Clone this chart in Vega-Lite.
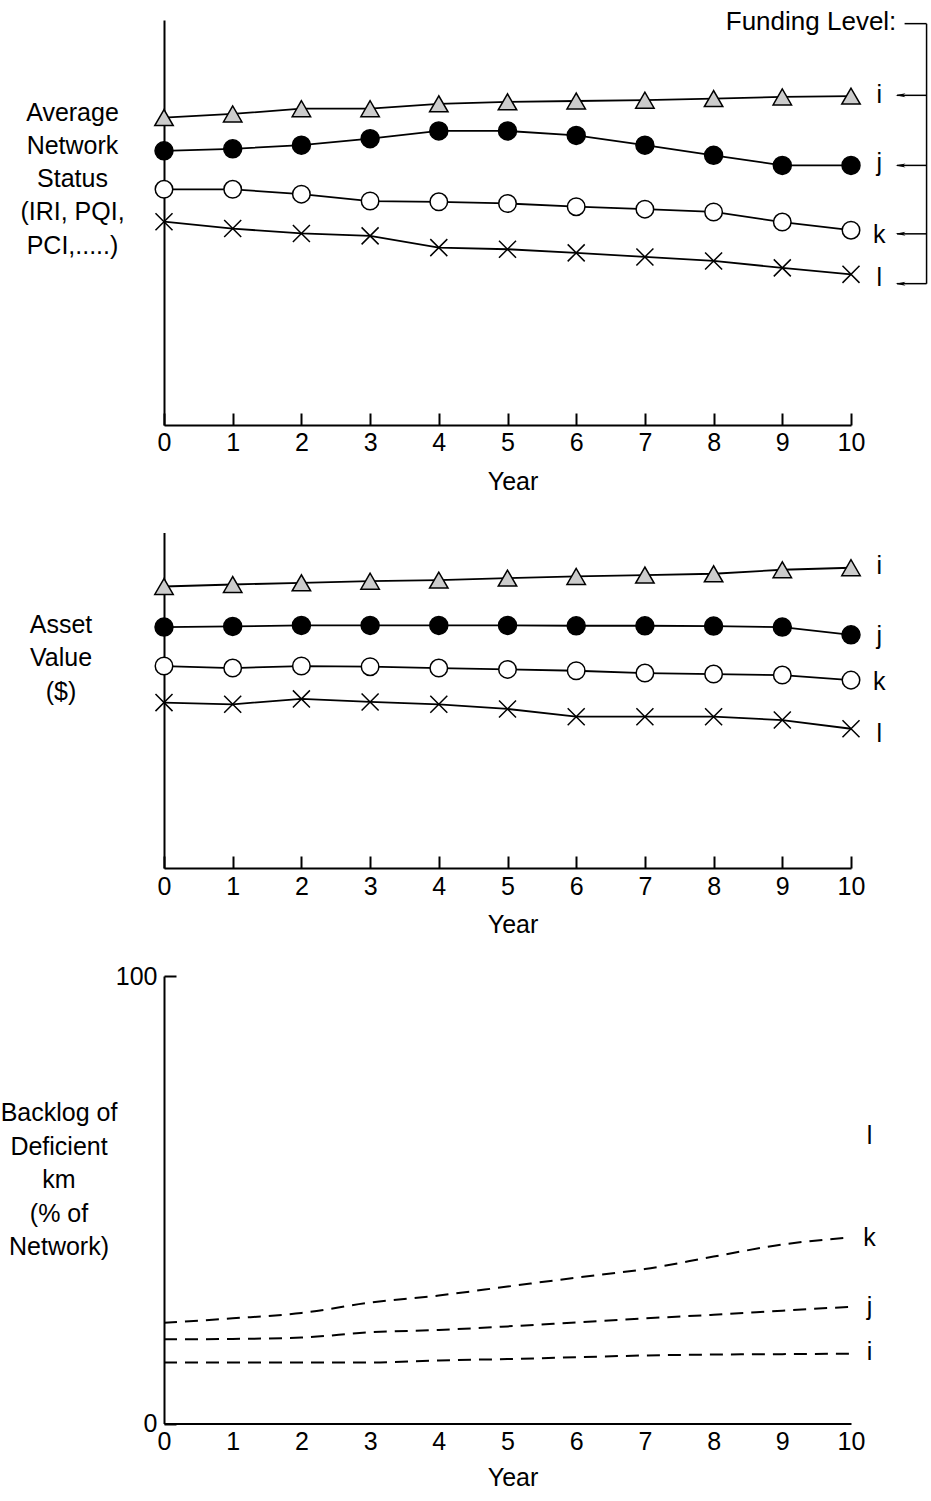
{
  "$schema": "https://vega.github.io/schema/vega-lite/v6.json",
  "padding": {"left": 0, "top": 9, "right": 0, "bottom": 0},
  "bounds": "flush",
  "spacing": 107.5,
  "config": {
    "view": {"stroke": null},
    "font": "Liberation Sans",
    "axis": {"labelFont": "Liberation Sans", "titleFont": "Liberation Sans", "titleFontWeight": "normal", "labelColor": "black", "titleColor": "black", "domainColor": "black", "tickColor": "black", "grid": false},
    "text": {"font": "Liberation Sans", "fontSize": 25, "color": "black"}
  },
  "datasets": {
    "series": [
      {"p": "A", "s": "i", "year": 0, "v": 75.9}, {"p": "A", "s": "i", "year": 1, "v": 76.8}, {"p": "A", "s": "i", "year": 2, "v": 78.1}, {"p": "A", "s": "i", "year": 3, "v": 78.1}, {"p": "A", "s": "i", "year": 4, "v": 79.3}, {"p": "A", "s": "i", "year": 5, "v": 79.8}, {"p": "A", "s": "i", "year": 6, "v": 80.0}, {"p": "A", "s": "i", "year": 7, "v": 80.2}, {"p": "A", "s": "i", "year": 8, "v": 80.6}, {"p": "A", "s": "i", "year": 9, "v": 81.0}, {"p": "A", "s": "i", "year": 10, "v": 81.2},
      {"p": "A", "s": "j", "year": 0, "v": 67.7}, {"p": "A", "s": "j", "year": 1, "v": 68.2}, {"p": "A", "s": "j", "year": 2, "v": 69.1}, {"p": "A", "s": "j", "year": 3, "v": 70.7}, {"p": "A", "s": "j", "year": 4, "v": 72.6}, {"p": "A", "s": "j", "year": 5, "v": 72.6}, {"p": "A", "s": "j", "year": 6, "v": 71.5}, {"p": "A", "s": "j", "year": 7, "v": 69.1}, {"p": "A", "s": "j", "year": 8, "v": 66.6}, {"p": "A", "s": "j", "year": 9, "v": 64.1}, {"p": "A", "s": "j", "year": 10, "v": 64.1},
      {"p": "A", "s": "k", "year": 0, "v": 58.2}, {"p": "A", "s": "k", "year": 1, "v": 58.2}, {"p": "A", "s": "k", "year": 2, "v": 57.0}, {"p": "A", "s": "k", "year": 3, "v": 55.3}, {"p": "A", "s": "k", "year": 4, "v": 55.1}, {"p": "A", "s": "k", "year": 5, "v": 54.7}, {"p": "A", "s": "k", "year": 6, "v": 53.9}, {"p": "A", "s": "k", "year": 7, "v": 53.3}, {"p": "A", "s": "k", "year": 8, "v": 52.6}, {"p": "A", "s": "k", "year": 9, "v": 50.1}, {"p": "A", "s": "k", "year": 10, "v": 48.1},
      {"p": "A", "s": "l", "year": 0, "v": 50.2}, {"p": "A", "s": "l", "year": 1, "v": 48.5}, {"p": "A", "s": "l", "year": 2, "v": 47.3}, {"p": "A", "s": "l", "year": 3, "v": 46.7}, {"p": "A", "s": "l", "year": 4, "v": 43.8}, {"p": "A", "s": "l", "year": 5, "v": 43.4}, {"p": "A", "s": "l", "year": 6, "v": 42.5}, {"p": "A", "s": "l", "year": 7, "v": 41.5}, {"p": "A", "s": "l", "year": 8, "v": 40.5}, {"p": "A", "s": "l", "year": 9, "v": 38.8}, {"p": "A", "s": "l", "year": 10, "v": 37.2},
      {"p": "B", "s": "i", "year": 0, "v": 83.9}, {"p": "B", "s": "i", "year": 1, "v": 84.5}, {"p": "B", "s": "i", "year": 2, "v": 85.0}, {"p": "B", "s": "i", "year": 3, "v": 85.5}, {"p": "B", "s": "i", "year": 4, "v": 85.8}, {"p": "B", "s": "i", "year": 5, "v": 86.4}, {"p": "B", "s": "i", "year": 6, "v": 86.9}, {"p": "B", "s": "i", "year": 7, "v": 87.3}, {"p": "B", "s": "i", "year": 8, "v": 87.7}, {"p": "B", "s": "i", "year": 9, "v": 88.9}, {"p": "B", "s": "i", "year": 10, "v": 89.5},
      {"p": "B", "s": "j", "year": 0, "v": 71.8}, {"p": "B", "s": "j", "year": 1, "v": 72.0}, {"p": "B", "s": "j", "year": 2, "v": 72.3}, {"p": "B", "s": "j", "year": 3, "v": 72.3}, {"p": "B", "s": "j", "year": 4, "v": 72.3}, {"p": "B", "s": "j", "year": 5, "v": 72.3}, {"p": "B", "s": "j", "year": 6, "v": 72.2}, {"p": "B", "s": "j", "year": 7, "v": 72.2}, {"p": "B", "s": "j", "year": 8, "v": 72.1}, {"p": "B", "s": "j", "year": 9, "v": 71.8}, {"p": "B", "s": "j", "year": 10, "v": 69.5},
      {"p": "B", "s": "k", "year": 0, "v": 60.2}, {"p": "B", "s": "k", "year": 1, "v": 59.6}, {"p": "B", "s": "k", "year": 2, "v": 60.2}, {"p": "B", "s": "k", "year": 3, "v": 60.0}, {"p": "B", "s": "k", "year": 4, "v": 59.6}, {"p": "B", "s": "k", "year": 5, "v": 59.2}, {"p": "B", "s": "k", "year": 6, "v": 58.8}, {"p": "B", "s": "k", "year": 7, "v": 58.1}, {"p": "B", "s": "k", "year": 8, "v": 57.8}, {"p": "B", "s": "k", "year": 9, "v": 57.5}, {"p": "B", "s": "k", "year": 10, "v": 56.0},
      {"p": "B", "s": "l", "year": 0, "v": 49.3}, {"p": "B", "s": "l", "year": 1, "v": 48.8}, {"p": "B", "s": "l", "year": 2, "v": 50.4}, {"p": "B", "s": "l", "year": 3, "v": 49.5}, {"p": "B", "s": "l", "year": 4, "v": 48.8}, {"p": "B", "s": "l", "year": 5, "v": 47.4}, {"p": "B", "s": "l", "year": 6, "v": 45.1}, {"p": "B", "s": "l", "year": 7, "v": 45.1}, {"p": "B", "s": "l", "year": 8, "v": 45.1}, {"p": "B", "s": "l", "year": 9, "v": 44.1}, {"p": "B", "s": "l", "year": 10, "v": 41.5},
      {"p": "C", "s": "i", "year": 0, "v": 13.65}, {"p": "C", "s": "i", "year": 1, "v": 13.65}, {"p": "C", "s": "i", "year": 2, "v": 13.65}, {"p": "C", "s": "i", "year": 3, "v": 13.65}, {"p": "C", "s": "i", "year": 4, "v": 14.1}, {"p": "C", "s": "i", "year": 5, "v": 14.4}, {"p": "C", "s": "i", "year": 6, "v": 14.8}, {"p": "C", "s": "i", "year": 7, "v": 15.2}, {"p": "C", "s": "i", "year": 8, "v": 15.4}, {"p": "C", "s": "i", "year": 9, "v": 15.5}, {"p": "C", "s": "i", "year": 10, "v": 15.6},
      {"p": "C", "s": "j", "year": 0, "v": 18.8}, {"p": "C", "s": "j", "year": 1, "v": 18.9}, {"p": "C", "s": "j", "year": 2, "v": 19.2}, {"p": "C", "s": "j", "year": 3, "v": 20.4}, {"p": "C", "s": "j", "year": 4, "v": 20.9}, {"p": "C", "s": "j", "year": 5, "v": 21.7}, {"p": "C", "s": "j", "year": 6, "v": 22.6}, {"p": "C", "s": "j", "year": 7, "v": 23.5}, {"p": "C", "s": "j", "year": 8, "v": 24.3}, {"p": "C", "s": "j", "year": 9, "v": 25.2}, {"p": "C", "s": "j", "year": 10, "v": 26.1},
      {"p": "C", "s": "k", "year": 0, "v": 22.5}, {"p": "C", "s": "k", "year": 1, "v": 23.5}, {"p": "C", "s": "k", "year": 2, "v": 24.7}, {"p": "C", "s": "k", "year": 3, "v": 27.0}, {"p": "C", "s": "k", "year": 4, "v": 28.6}, {"p": "C", "s": "k", "year": 5, "v": 30.6}, {"p": "C", "s": "k", "year": 6, "v": 32.6}, {"p": "C", "s": "k", "year": 7, "v": 34.5}, {"p": "C", "s": "k", "year": 8, "v": 37.3}, {"p": "C", "s": "k", "year": 9, "v": 40.0}, {"p": "C", "s": "k", "year": 10, "v": 41.6}
    ],
    "labels": [
      {"p": "A", "s": "i", "v": 79.6}, {"p": "A", "s": "j", "v": 62.7}, {"p": "A", "s": "k", "v": 45.0}, {"p": "A", "s": "l", "v": 34.3},
      {"p": "B", "s": "i", "v": 87.6}, {"p": "B", "s": "j", "v": 66.9}, {"p": "B", "s": "k", "v": 53.0}, {"p": "B", "s": "l", "v": 37.7},
      {"p": "C", "s": "i", "v": 14.1}, {"p": "C", "s": "j", "v": 24.3}, {"p": "C", "s": "k", "v": 39.6}, {"p": "C", "s": "l", "v": 62.5}
    ],
    "arrows": [
      {"s": "i", "v": 81.4}, {"s": "j", "v": 64.1}, {"s": "k", "v": 47.2}, {"s": "l", "v": 34.9}
    ]
  },
  "vconcat": [
    {
      "width": 687,
      "height": 405,
      "layer": [
        {
          "data": {"name": "series"},
          "transform": [{"filter": "datum.p == 'A'"}],
          "mark": {"type": "line", "color": "black", "strokeWidth": 1.8},
          "encoding": {
            "x": {"field": "year", "type": "quantitative", "scale": {"domain": [0, 10]},
              "axis": {"values": [0, 1, 2, 3, 4, 5, 6, 7, 8, 9, 10], "format": "d", "tickSize": -12, "tickWidth": 2, "domainWidth": 2, "labelFontSize": 25, "labelPadding": 17, "labelFlush": false, "labelOverlap": false, "title": "Year", "titleFontSize": 25, "titleX": 348.5, "titleY": 64, "titleBaseline": "alphabetic", "titleAlign": "center"}},
            "y": {"field": "v", "type": "quantitative", "scale": {"domain": [0, 100]},
              "axis": {"ticks": false, "labels": false, "domainWidth": 2, "title": ["Average", "Network", "Status", "(IRI, PQI,", "PCI,.....)"], "titleFontSize": 25, "titleLineHeight": 33.3, "titleAngle": 0, "titleAlign": "center", "titleBaseline": "alphabetic", "titleX": -92, "titleY": 100}},
            "detail": {"field": "s"}
          }
        },
        {
          "data": {"name": "series"},
          "transform": [{"filter": "datum.p == 'A'"}],
          "mark": {"type": "point", "filled": true, "stroke": "black", "strokeWidth": 1.5, "opacity": 1},
          "encoding": {
            "x": {"field": "year", "type": "quantitative", "scale": {"domain": [0, 10]}},
            "y": {"field": "v", "type": "quantitative", "scale": {"domain": [0, 100]}},
            "shape": {"field": "s", "scale": {"domain": ["i", "j", "k", "l"], "range": ["triangle-up", "circle", "circle", "M-1,-1L1,1M1,-1L-1,1"]}, "legend": null},
            "fill": {"field": "s", "scale": {"domain": ["i", "j", "k", "l"], "range": ["#cccccc", "#000000", "#ffffff", "transparent"]}, "legend": null},
            "size": {"field": "s", "type": "nominal", "scale": {"domain": ["i", "j", "k", "l"], "range": [340, 290, 290, 150]}, "legend": null}
          }
        },
        {
          "data": {"name": "labels"},
          "transform": [{"filter": "datum.p == 'A'"}],
          "mark": {"type": "text", "align": "center", "baseline": "alphabetic", "fontSize": 25},
          "encoding": {
            "x": {"datum": 10.41, "type": "quantitative", "scale": {"domain": [0, 10]}},
            "y": {"field": "v", "type": "quantitative", "scale": {"domain": [0, 100]}},
            "text": {"field": "s"}
          }
        },
        {
          "data": {"name": "arrows"},
          "mark": {"type": "rule", "color": "black", "strokeWidth": 1.5},
          "encoding": {
            "x": {"datum": 10.67, "type": "quantitative", "scale": {"domain": [0, 10]}},
            "x2": {"datum": 11.1},
            "y": {"field": "v", "type": "quantitative", "scale": {"domain": [0, 100]}}
          }
        },
        {
          "data": {"name": "arrows"},
          "mark": {"type": "point", "shape": "M-1,0L1,-0.4L0.5,0L1,0.4Z", "filled": true, "color": "black", "size": 100, "opacity": 1},
          "encoding": {
            "x": {"datum": 10.72, "type": "quantitative", "scale": {"domain": [0, 10]}},
            "y": {"field": "v", "type": "quantitative", "scale": {"domain": [0, 100]}}
          }
        },
        {
          "data": {"values": [{"v0": 34.9, "v1": 99.1}]},
          "mark": {"type": "rule", "color": "black", "strokeWidth": 1.5},
          "encoding": {
            "x": {"datum": 11.1, "type": "quantitative", "scale": {"domain": [0, 10]}},
            "y": {"field": "v0", "type": "quantitative", "scale": {"domain": [0, 100]}},
            "y2": {"field": "v1"}
          }
        },
        {
          "data": {"values": [{"v": 99.1}]},
          "mark": {"type": "rule", "color": "black", "strokeWidth": 1.5},
          "encoding": {
            "x": {"datum": 10.78, "type": "quantitative", "scale": {"domain": [0, 10]}},
            "x2": {"datum": 11.1},
            "y": {"field": "v", "type": "quantitative", "scale": {"domain": [0, 100]}}
          }
        },
        {
          "data": {"values": [{"t": "Funding Level:", "v": 97.46}]},
          "mark": {"type": "text", "align": "right", "baseline": "alphabetic", "fontSize": 26},
          "encoding": {
            "x": {"datum": 10.66, "type": "quantitative", "scale": {"domain": [0, 10]}},
            "y": {"field": "v", "type": "quantitative", "scale": {"domain": [0, 100]}},
            "text": {"field": "t"}
          }
        }
      ]
    },
    {
      "width": 687,
      "height": 335.5,
      "layer": [
        {
          "data": {"name": "series"},
          "transform": [{"filter": "datum.p == 'B'"}],
          "mark": {"type": "line", "color": "black", "strokeWidth": 1.8},
          "encoding": {
            "x": {"field": "year", "type": "quantitative", "scale": {"domain": [0, 10]},
              "axis": {"values": [0, 1, 2, 3, 4, 5, 6, 7, 8, 9, 10], "format": "d", "tickSize": -12, "tickWidth": 2, "domainWidth": 2, "labelFontSize": 25, "labelPadding": 18, "labelFlush": false, "labelOverlap": false, "title": "Year", "titleFontSize": 25, "titleX": 348.5, "titleY": 64, "titleBaseline": "alphabetic", "titleAlign": "center"}},
            "y": {"field": "v", "type": "quantitative", "scale": {"domain": [0, 100]},
              "axis": {"ticks": false, "labels": false, "domainWidth": 2, "title": ["Asset", "Value", "($)"], "titleFontSize": 25, "titleLineHeight": 33.3, "titleAngle": 0, "titleAlign": "center", "titleBaseline": "alphabetic", "titleX": -103.5, "titleY": 100.2}},
            "detail": {"field": "s"}
          }
        },
        {
          "data": {"name": "series"},
          "transform": [{"filter": "datum.p == 'B'"}],
          "mark": {"type": "point", "filled": true, "stroke": "black", "strokeWidth": 1.5, "opacity": 1},
          "encoding": {
            "x": {"field": "year", "type": "quantitative", "scale": {"domain": [0, 10]}},
            "y": {"field": "v", "type": "quantitative", "scale": {"domain": [0, 100]}},
            "shape": {"field": "s", "scale": {"domain": ["i", "j", "k", "l"], "range": ["triangle-up", "circle", "circle", "M-1,-1L1,1M1,-1L-1,1"]}, "legend": null},
            "fill": {"field": "s", "scale": {"domain": ["i", "j", "k", "l"], "range": ["#cccccc", "#000000", "#ffffff", "transparent"]}, "legend": null},
            "size": {"field": "s", "type": "nominal", "scale": {"domain": ["i", "j", "k", "l"], "range": [340, 290, 290, 150]}, "legend": null}
          }
        },
        {
          "data": {"name": "labels"},
          "transform": [{"filter": "datum.p == 'B'"}],
          "mark": {"type": "text", "align": "center", "baseline": "alphabetic", "fontSize": 25},
          "encoding": {
            "x": {"datum": 10.41, "type": "quantitative", "scale": {"domain": [0, 10]}},
            "y": {"field": "v", "type": "quantitative", "scale": {"domain": [0, 100]}},
            "text": {"field": "s"}
          }
        }
      ]
    },
    {
      "width": 687,
      "height": 447.5,
      "layer": [
        {
          "data": {"name": "series"},
          "transform": [{"filter": "datum.p == 'C'"}],
          "mark": {"type": "line", "color": "black", "strokeWidth": 2, "strokeDash": [13, 8], "interpolate": "monotone"},
          "encoding": {
            "x": {"field": "year", "type": "quantitative", "scale": {"domain": [0, 10]},
              "axis": {"values": [0, 1, 2, 3, 4, 5, 6, 7, 8, 9, 10], "format": "d", "ticks": false, "domainWidth": 2, "labelFontSize": 25, "labelPadding": 6, "labelFlush": false, "labelOverlap": false, "title": "Year", "titleFontSize": 25, "titleX": 348.5, "titleY": 62, "titleBaseline": "alphabetic", "titleAlign": "center"}},
            "y": {"field": "v", "type": "quantitative", "scale": {"domain": [0, 100]},
              "axis": {"values": [0, 100], "tickSize": -12, "tickWidth": 2, "domainWidth": 2, "labelFontSize": 25, "labelPadding": 19, "labelOverlap": false, "labelFlush": false, "title": ["Backlog of", "Deficient", "km", "(% of", "Network)"], "titleFontSize": 25, "titleLineHeight": 33.5, "titleAngle": 0, "titleAlign": "center", "titleBaseline": "alphabetic", "titleX": -105.5, "titleY": 144.5}},
            "detail": {"field": "s"}
          }
        },
        {
          "data": {"name": "labels"},
          "transform": [{"filter": "datum.p == 'C'"}],
          "mark": {"type": "text", "align": "center", "baseline": "alphabetic", "fontSize": 25},
          "encoding": {
            "x": {"datum": 10.27, "type": "quantitative", "scale": {"domain": [0, 10]}},
            "y": {"field": "v", "type": "quantitative", "scale": {"domain": [0, 100]}},
            "text": {"field": "s"}
          }
        }
      ]
    }
  ]
}
